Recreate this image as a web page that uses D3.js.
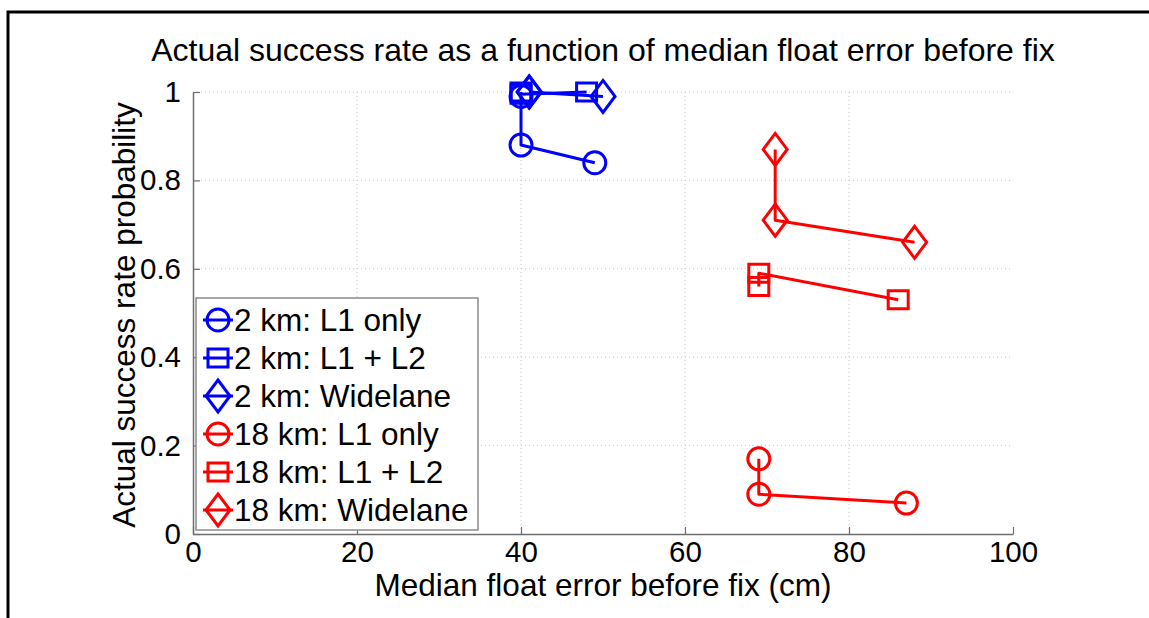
<!DOCTYPE html>
<html>
<head>
<meta charset="utf-8">
<script src="https://cdn.jsdelivr.net/npm/d3@7"></script>
<style>
  html, body { margin: 0; padding: 0; background: #fff; }
  svg { display: block; }
  text { font-family: "Liberation Sans", Arial, sans-serif; fill: #000; }
</style>
</head>
<body>
<svg id="chart" width="1149" height="618"></svg>
<script>
// Median float error before fix (cm) and actual success rate, per baseline / method
const seriesNames = ["2 km: L1 only", "2 km: L1 + L2", "2 km: Widelane",
                     "18 km: L1 only", "18 km: L1 + L2", "18 km: Widelane"];
const seriesColors = ["#0000ff", "#0000ff", "#0000ff", "#ff0000", "#ff0000", "#ff0000"];
const seriesMarkers = ["circle", "square", "diamond", "circle", "square", "diamond"];

const km2L1Err   = [40, 40, 49];
const km2L1Rate  = [0.99, 0.88, 0.84];
const km2L12Err  = [40, 40, 48];
const km2L12Rate = [1.0, 0.995, 1.0];
const km2WLErr   = [41, 41, 50];
const km2WLRate  = [1.0, 1.0, 0.99];
const km18L1Err   = [69, 69, 87];
const km18L1Rate  = [0.17, 0.09, 0.07];
const km18L12Err  = [69, 69, 86];
const km18L12Rate = [0.56, 0.59, 0.53];
const km18WLErr   = [71, 71, 88];
const km18WLRate  = [0.87, 0.71, 0.66];

const xTicks = [0, 20, 40, 60, 80, 100];
const yTicks = [0, 0.2, 0.4, 0.6, 0.8, 1];

const errs  = [km2L1Err, km2L12Err, km2WLErr, km18L1Err, km18L12Err, km18WLErr];
const rates = [km2L1Rate, km2L12Rate, km2WLRate, km18L1Rate, km18L12Rate, km18WLRate];
const series = seriesNames.map((name, i) => ({
  name, color: seriesColors[i], marker: seriesMarkers[i],
  points: errs[i].map((e, j) => ({ x: e, y: rates[i][j] }))
}));

const svg = d3.select("#chart");
const W = 1149, H = 618;
const plot = { left: 193, right: 1013, top: 92, bottom: 534 };
const FS = 31.5;

const x = d3.scaleLinear().domain([0, 100]).range([plot.left, plot.right]);
const y = d3.scaleLinear().domain([0, 1]).range([plot.bottom, plot.top]);

// page frame (left and top edges)
svg.append("path")
  .attr("d", `M8,${H} L8,12 L${W},12`)
  .attr("fill", "none").attr("stroke", "#000").attr("stroke-width", 3);

// dotted grid
const grid = svg.append("g");
grid.selectAll("line.gx").data(xTicks.filter(t => t > 0 && t < 100)).join("line")
  .attr("x1", d => x(d)).attr("x2", d => x(d))
  .attr("y1", plot.top).attr("y2", plot.bottom)
  .attr("stroke", "#c8c8c8").attr("stroke-width", 1).attr("stroke-dasharray", "1,3");
grid.selectAll("line.gy").data(yTicks.filter(t => t > 0)).join("line")
  .attr("x1", plot.left).attr("x2", plot.right)
  .attr("y1", d => y(d)).attr("y2", d => y(d))
  .attr("stroke", "#c8c8c8").attr("stroke-width", 1).attr("stroke-dasharray", "1,3");

// axes with inward ticks
const xAxis = d3.axisBottom(x).tickValues(xTicks).tickFormat(d3.format("d")).tickSizeInner(-7).tickSizeOuter(0).tickPadding(7);
const yAxis = d3.axisLeft(y).tickValues(yTicks).tickFormat(d => d === 0 || d === 1 ? d3.format("d")(d) : d3.format(".1f")(d)).tickSizeInner(-7).tickSizeOuter(0).tickPadding(12);

const gx = svg.append("g").attr("transform", `translate(0,${plot.bottom})`).call(xAxis);
const gy = svg.append("g").attr("transform", `translate(${plot.left},0)`).call(yAxis);
[gx, gy].forEach(g => {
  g.select(".domain").attr("stroke", "#6e6e6e").attr("stroke-width", 1.5);
  g.selectAll(".tick line").attr("stroke", "#6e6e6e").attr("stroke-width", 1.2);
  g.selectAll(".tick text").attr("font-size", 29.5).attr("font-family", "Liberation Sans, Arial, sans-serif").attr("fill", "#000");
});
gx.selectAll(".tick text").attr("dy", "0.72em");

// marker shapes
function markerPath(type, cx, cy) {
  if (type === "circle") {
    const r = 11;
    return `M${cx - r},${cy} a${r},${r} 0 1,0 ${2 * r},0 a${r},${r} 0 1,0 ${-2 * r},0 Z`;
  }
  if (type === "square") {
    const hw = 10, hh = 9;
    return `M${cx - hw},${cy - hh} H${cx + hw} V${cy + hh} H${cx - hw} Z`;
  }
  const hw = 12, hh = 16;
  return `M${cx},${cy - hh} L${cx + hw},${cy} L${cx},${cy + hh} L${cx - hw},${cy} Z`;
}

const line = d3.line().x(d => x(d.x)).y(d => y(d.y));
const dataG = svg.append("g");
series.forEach(s => {
  dataG.append("path").datum(s.points).attr("d", line)
    .attr("fill", "none").attr("stroke", s.color).attr("stroke-width", 3).attr("stroke-linejoin", "round");
  dataG.selectAll(null).data(s.points).join("path")
    .attr("d", d => markerPath(s.marker, x(d.x), y(d.y)))
    .attr("fill", "none").attr("stroke", s.color).attr("stroke-width", 3);
});

// legend
const leg = { x: 196, y: 298, w: 282, h: 232, row: 38 };
const lg = svg.append("g");
lg.append("rect").attr("x", leg.x).attr("y", leg.y).attr("width", leg.w).attr("height", leg.h)
  .attr("fill", "#fff").attr("stroke", "#8c8c8c").attr("stroke-width", 1.5);
series.forEach((s, i) => {
  const cy = leg.y + 22 + i * leg.row;
  const cx = leg.x + 22;
  lg.append("line").attr("x1", cx - 15).attr("x2", cx + 15).attr("y1", cy).attr("y2", cy)
    .attr("stroke", s.color).attr("stroke-width", 3);
  lg.append("path").attr("d", markerPath(s.marker, cx, cy))
    .attr("fill", "none").attr("stroke", s.color).attr("stroke-width", 3);
  lg.append("text").attr("x", leg.x + 38).attr("y", cy).attr("dy", "0.36em")
    .attr("font-size", FS).text(s.name);
});

// titles
svg.append("text").attr("x", 603).attr("y", 61).attr("text-anchor", "middle")
  .attr("font-size", FS + 0.5).text("Actual success rate as a function of median float error before fix");
svg.append("text").attr("x", 603).attr("y", 596).attr("text-anchor", "middle")
  .attr("font-size", FS).text("Median float error before fix (cm)");
svg.append("text").attr("transform", `translate(135,${(plot.top + plot.bottom) / 2 + 2}) rotate(-90)`)
  .attr("text-anchor", "middle").attr("font-size", FS).text("Actual success rate probability");
</script>
</body>
</html>
